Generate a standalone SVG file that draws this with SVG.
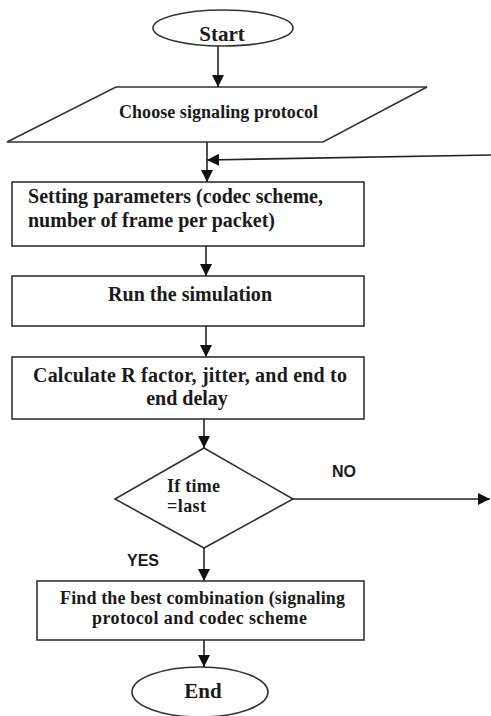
<svg xmlns="http://www.w3.org/2000/svg" width="491" height="716" viewBox="0 0 491 716">
<defs>
<marker id="arr" markerUnits="userSpaceOnUse" markerWidth="12" markerHeight="12" refX="12" refY="6" orient="auto">
<path d="M0,0 L12,6 L0,12 z" fill="#111"/>
</marker>
<style>
.shape{fill:#fff;stroke:#333;stroke-width:1.6}
.t{font-family:"Liberation Serif","Times New Roman",serif;font-weight:bold;fill:#1a1a1a}
.m{text-anchor:middle}
.lbl{font-family:"Liberation Sans",Arial,sans-serif;font-weight:bold;fill:#1a1a1a;font-size:16px}
.c{fill:none;stroke:#222;stroke-width:1.6;marker-end:url(#arr)}
</style>
</defs>
<rect width="491" height="716" fill="#fff"/>
<g id="start">
<ellipse class="shape" cx="223" cy="28" rx="70" ry="18"/>
<text class="t m" x="222" y="41" font-size="21">Start</text>
</g>
<g id="choose">
<polygon class="shape" points="116,87 427,87 323,142 7,142"/>
<text class="t m" x="218.5" y="118" font-size="18" textLength="199" lengthAdjust="spacing">Choose signaling protocol</text>
</g>
<g id="setting">
<rect class="shape" x="12" y="182" width="352" height="64"/>
<text class="t" x="28" y="203" font-size="20" textLength="295" lengthAdjust="spacing">Setting parameters (codec scheme,</text>
<text class="t" x="28" y="227" font-size="20">number of frame per packet)</text>
</g>
<g id="run">
<rect class="shape" x="12" y="276" width="352" height="50"/>
<text class="t m" x="190" y="301" font-size="20" textLength="164" lengthAdjust="spacing">Run the simulation</text>
</g>
<g id="calc">
<rect class="shape" x="12" y="357" width="352" height="62"/>
<text class="t m" x="190" y="382" font-size="20" textLength="314" lengthAdjust="spacing">Calculate R factor, jitter, and end to</text>
<text class="t m" x="187" y="405" font-size="20">end delay</text>
</g>
<g id="decision">
<polygon class="shape" points="204,448 293,499 204,548 115,499"/>
<text class="t" x="167" y="492" font-size="18" textLength="53" lengthAdjust="spacing">If time</text>
<text class="t" x="167" y="512" font-size="18" textLength="39" lengthAdjust="spacing">=last</text>
</g>
<g id="find">
<rect class="shape" x="37" y="581" width="327" height="59"/>
<text class="t m" x="202.5" y="604" font-size="18" textLength="285" lengthAdjust="spacing">Find the best combination (signaling</text>
<text class="t m" x="199.5" y="624" font-size="18" textLength="215" lengthAdjust="spacing">protocol and codec scheme</text>
</g>
<g id="end">
<ellipse class="shape" cx="200" cy="692" rx="68" ry="25"/>
<text class="t m" x="203" y="698" font-size="21">End</text>
</g>
<g id="connectors">
<line class="c" x1="218" y1="46" x2="218" y2="87"/>
<line class="c" x1="207" y1="142" x2="207" y2="182"/>
<line class="c" x1="491" y1="155" x2="207" y2="160"/>
<line class="c" x1="206" y1="246" x2="206" y2="276"/>
<line class="c" x1="206" y1="326" x2="206" y2="357"/>
<line class="c" x1="204" y1="419" x2="204" y2="448"/>
<line class="c" x1="293" y1="499" x2="490" y2="499"/>
<line class="c" x1="204" y1="548" x2="204" y2="581"/>
<line class="c" x1="204" y1="640" x2="204" y2="667"/>
<text class="lbl" x="332" y="477">NO</text>
<text class="lbl" x="127" y="566">YES</text>
</g>
</svg>
